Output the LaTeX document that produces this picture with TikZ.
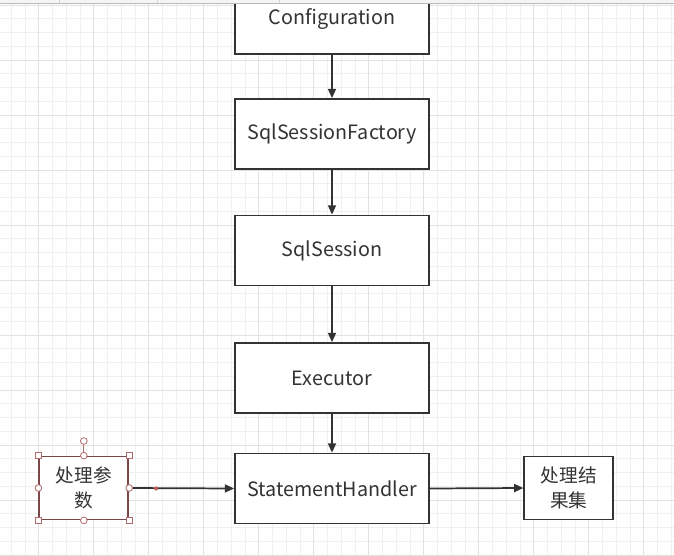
\documentclass[tikz,border=0pt]{standalone}
\usepackage{fontspec}
\setmainfont{Noto Sans CJK SC}
\usepackage{tikz}
\usetikzlibrary{arrows.meta}

\definecolor{ink}{HTML}{333333}
\definecolor{gridminor}{HTML}{F0F0F0}
\definecolor{gridmajor}{HTML}{E2E2E2}
\definecolor{selbrown}{HTML}{7A4848}
\definecolor{handle}{HTML}{B06A6A}

\begin{document}
\begin{tikzpicture}[
    x=0.75pt, y=-0.75pt,
    >={Triangle[length=7pt,width=6pt]},
    % caja principal del flujo
    flowbox/.style={
        draw=ink, line width=1.3pt, fill=white,
        minimum width=145.5pt, minimum height=52.5pt,
        text=ink, font=\fontsize{14.8}{16}\selectfont
    },
    % cajas pequeñas laterales
    sidebox/.style={
        draw=ink, line width=1.3pt, fill=white,
        minimum width=66.75pt, minimum height=47.25pt,
        text=ink, align=center, inner sep=1pt,
        font=\fontsize{14}{18.5}\selectfont
    },
    flow/.style={draw=ink, line width=1.3pt, ->},
    % marcas de selección
    selsq/.style={draw=handle, fill=white, line width=0.6pt,
        minimum size=4.5pt, inner sep=0pt, rectangle},
    selci/.style={draw=handle, fill=white, line width=0.6pt,
        minimum size=5pt, inner sep=0pt, circle}
]
    % --- fondo y cuadrícula ---
    \useasboundingbox (0,0) rectangle (674,556);
    \clip (0,0) rectangle (674,556);
    \fill[white] (0,0) rectangle (674,556);
    \foreach \k in {0,...,48} {
        \draw[gridminor, line width=0.5pt] (11.3+13.75*\k,0) -- (11.3+13.75*\k,556);
    }
    \foreach \k in {0,...,40} {
        \draw[gridminor, line width=0.5pt] (0,5+13.75*\k) -- (674,5+13.75*\k);
    }
    \foreach \k in {0,...,12} {
        \draw[gridmajor, line width=0.6pt] (38.8+55*\k,0) -- (38.8+55*\k,556);
        \draw[gridmajor, line width=0.6pt] (0,5+55*\k) -- (674,5+55*\k);
    }

    % --- nodos ---
    \node[flowbox] (cfg) at (332,19) {Configuration};
    \node[flowbox] (factory) at (332,134) {SqlSessionFactory};
    \node[flowbox] (session) at (332,250.5) {SqlSession};
    \node[flowbox] (executor) at (332,378) {Executor};
    \node[flowbox] (handler) at (332,488.5) {StatementHandler};
    \node[sidebox, draw=selbrown] (params) at (83.8,488) {处理参\\数};
    \node[sidebox] (results) at (568.8,488) {处理结\\果集};

    % --- conexiones ---
    \draw[flow] (cfg) -- (factory);
    \draw[flow] (factory) -- (session);
    \draw[flow] (session) -- (executor);
    \draw[flow] (executor) -- (handler);
    \draw[flow] (params.east) -- (handler.west);
    \draw[flow] (handler.east) -- (results.west);

    % --- selección de "处理参数" ---
    \coordinate (rot) at (83.8,441);
    \draw[handle, line width=0.6pt] (rot) -- (params.north);
    \node[selci] at (rot) {};
    \foreach \a in {north west, north east, south west, south east} {
        \node[selsq] at (params.\a) {};
    }
    \foreach \a in {north, south, east, west} {
        \node[selci] at (params.\a) {};
    }
    \fill[handle!80!red] (156,488.5) circle (2);

    % --- barra superior ---
    \fill[gray!8] (0,0) rectangle (674,3);
    \draw[gray!55, line width=0.8pt] (0,3.5) -- (674,3.5);
    \foreach \x in {59,157,279} {
        \draw[gray!35, line width=0.5pt] (\x,0) -- (\x,3);
    }
\end{tikzpicture}
\end{document}
